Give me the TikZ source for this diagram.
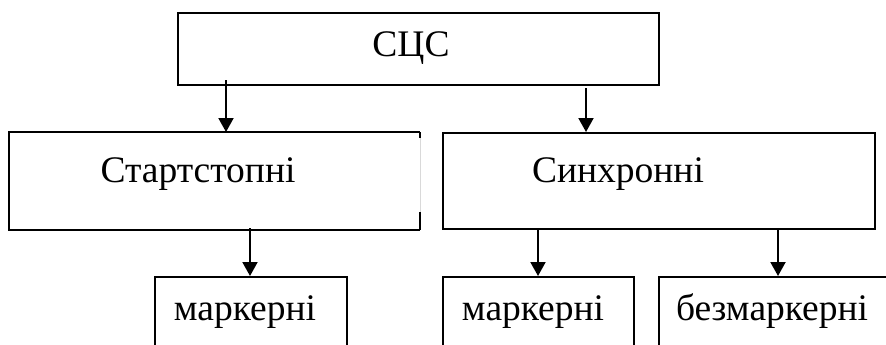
\documentclass[tikz,border=0pt]{standalone}
\usepackage{fontspec}
\setmainfont{Liberation Serif}
\usetikzlibrary{arrows.meta}
\begin{document}
\begin{tikzpicture}[x=1pt,y=-1pt,
  boxline/.style={line width=2pt},
  box/.style={draw, boxline, rectangle, inner sep=0pt, anchor=north west},
  lbl/.style={font=\fontsize{37.5}{42}\selectfont, anchor=base, inner sep=0pt},
  arr/.style={line width=2pt, -{Triangle[width=15pt,length=14pt]}}]
\useasboundingbox (0,0) rectangle (886,345);
\clip (0,0) rectangle (886,345);
% boxes
\node[box, minimum width=481pt, minimum height=72pt] (top) at (177,12) {};
\node[box, draw=none, minimum width=409pt, minimum height=96pt] (ss) at (9,132) {};
\draw[boxline] (ss.north east) -- (ss.north west) -- (ss.south west) -- (ss.south east);
\draw[black!15, line width=0.7pt] (ss.north east) -- (ss.south east);
\draw[boxline] (ss.north east) -- ++(0,6);
\draw[boxline] (ss.south east) -- ++(0,-18);
\node[box, minimum width=432pt, minimum height=96pt] (sy) at (442,132) {};
\node[box, minimum width=192pt, minimum height=100pt] (m1) at (154,276) {};
\node[box, minimum width=191pt, minimum height=100pt] (m2) at (442,276) {};
\node[box, minimum width=240pt, minimum height=100pt] (bm) at (658,276) {};
% labels
\node[lbl] (ttop) at (411,57) {СЦС};
\node[lbl] (tss) at (198,182) {Стартстопні};
\node[lbl] (tsy) at (618,182) {Синхронні};
\node[lbl] (tm1) at (245,320) {маркерні};
\node[lbl] (tm2) at (533,320) {маркерні};
\node[lbl] (tbm) at (772,320) {безмаркерні};
% arrows
\coordinate (a1) at (226,80);
\coordinate (a2) at (586,88);
\coordinate (a3) at (250,228);
\coordinate (a4) at (538,228);
\coordinate (a5) at (778,228);
\draw[arr] (a1) -- (a1 |- ss.north);
\draw[arr] (a2) -- (a2 |- sy.north);
\draw[arr] (a3) -- (a3 |- m1.north);
\draw[arr] (a4) -- (a4 |- m2.north);
\draw[arr] (a5) -- (a5 |- bm.north);
\end{tikzpicture}
\end{document}
